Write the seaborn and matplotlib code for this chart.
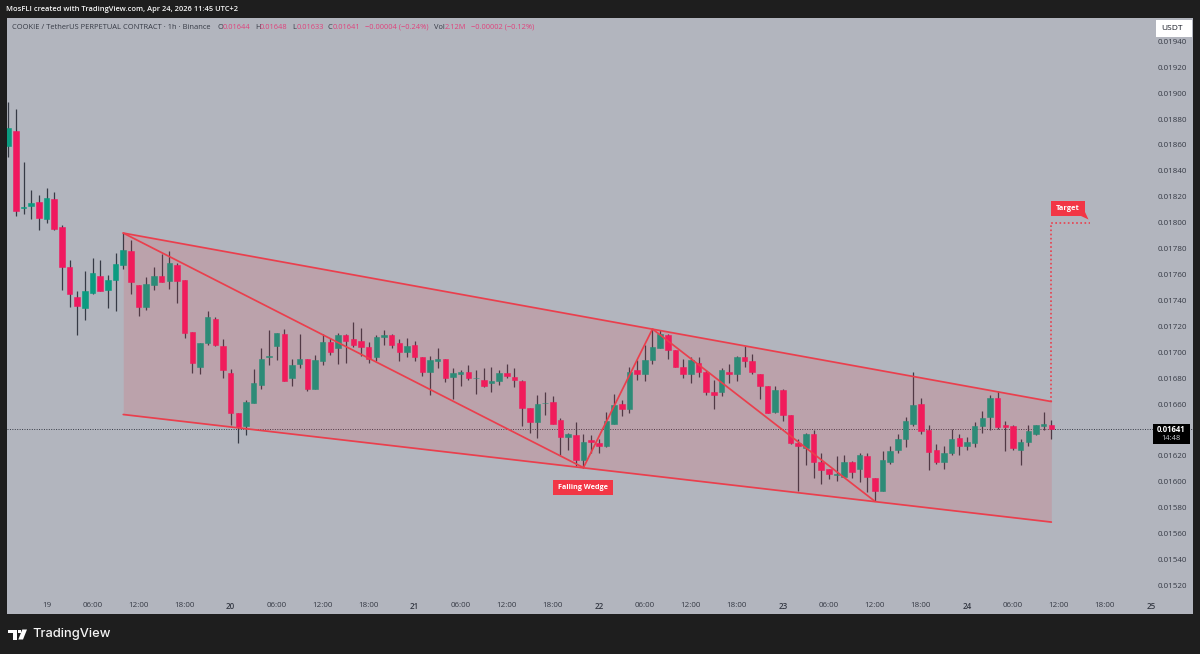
# COOKIE / USDT 1h chart with falling wedge drawing
import matplotlib
matplotlib.use("Agg")
import matplotlib.pyplot as plt
from matplotlib.patches import Rectangle, Polygon
import numpy as np
import pandas as pd
import seaborn as sns

# prices in units of 0.00001
opens = [1859,1871,1811,1813,1816,1803,1818,1797,1766,1743,
         1734,1746,1759,1748,1756,1767,1778,1752,1735,1752,
         1759,1755,1767,1756,1716,1689,1707,1726,1705,1684,
         1653,1643,1661,1675,1696,1705,1714,1680,1691,1695,
         1672,1693,1708,1703,1713,1710,1709,1704,1696,1712,
         1713,1707,1700,1706,1696,1685,1693,1695,1681,1683,
         1685,1680,1679,1676,1678,1684,1681,1678,1657,1646,
         1661,1662,1648,1635,1636,1617,1632,1630,1628,1645,
         1660,1656,1686,1683,1694,1703,1713,1702,1689,1683,
         1692,1685,1669,1669,1685,1683,1696,1693,1683,1674,
         1654,1671,1652,1630,1626,1637,1615,1610,1605,1604,
         1615,1610,1620,1603,1593,1615,1625,1633,1645,1660,
         1640,1625,1615,1622,1634,1628,1630,1643,1650,1665,
         1644,1643,1625,1631,1637,1643,1644]
highs = [1893,1888,1847,1825,1821,1827,1824,1798,1771,1747,
         1763,1773,1771,1760,1777,1792,1787,1752,1758,1766,
         1776,1778,1769,1756,1716,1707,1732,1727,1710,1687,
         1653,1663,1687,1703,1717,1715,1718,1695,1714,1695,
         1698,1714,1711,1715,1714,1723,1719,1708,1713,1717,
         1714,1710,1711,1709,1696,1697,1703,1695,1688,1686,
         1690,1686,1688,1689,1686,1691,1688,1679,1657,1667,
         1669,1666,1649,1638,1646,1637,1636,1633,1654,1668,
         1663,1689,1694,1706,1718,1717,1714,1702,1695,1696,
         1696,1686,1679,1688,1691,1697,1705,1699,1683,1674,
         1674,1672,1652,1633,1638,1640,1622,1610,1620,1621,
         1616,1622,1622,1603,1624,1628,1637,1650,1685,1665,
         1644,1629,1628,1641,1637,1635,1646,1655,1667,1670,
         1647,1644,1633,1644,1644,1654,1648]
lows = [1851,1805,1807,1803,1794,1800,1794,1748,1735,1713,
        1725,1745,1747,1734,1732,1764,1745,1728,1733,1748,
        1754,1749,1738,1711,1684,1683,1706,1705,1680,1644,
        1630,1636,1661,1672,1690,1694,1678,1674,1688,1670,
        1672,1690,1698,1691,1692,1704,1697,1692,1693,1706,
        1703,1693,1696,1693,1682,1667,1688,1677,1664,1674,
        1679,1668,1673,1669,1675,1680,1673,1643,1638,1634,
        1652,1645,1621,1625,1612,1611,1622,1622,1627,1645,
        1651,1653,1679,1678,1691,1703,1695,1689,1680,1676,
        1681,1667,1656,1666,1676,1678,1689,1683,1664,1653,
        1653,1647,1629,1593,1613,1603,1598,1602,1601,1604,
        1603,1600,1592,1585,1593,1614,1622,1627,1643,1637,
        1609,1614,1610,1621,1621,1625,1627,1638,1640,1641,
        1624,1625,1613,1628,1636,1640,1633]
closes = [1873,1809,1812,1815,1804,1819,1795,1766,1745,1736,
          1747,1761,1747,1756,1768,1779,1754,1735,1753,1759,
          1754,1769,1755,1715,1692,1707,1727,1706,1686,1653,
          1642,1662,1676,1695,1697,1715,1678,1690,1695,1672,
          1694,1708,1700,1713,1709,1706,1704,1695,1712,1713,
          1706,1700,1705,1696,1685,1694,1695,1680,1684,1685,
          1680,1680,1674,1678,1684,1682,1679,1657,1646,1660,
          1661,1645,1635,1637,1617,1631,1631,1628,1647,1659,
          1656,1685,1683,1694,1704,1714,1702,1689,1683,1694,
          1685,1669,1667,1686,1683,1696,1693,1685,1674,1653,
          1671,1652,1630,1628,1637,1615,1609,1606,1606,1615,
          1608,1621,1604,1593,1617,1624,1633,1647,1659,1639,
          1623,1615,1622,1633,1628,1631,1643,1649,1665,1642,
          1642,1626,1631,1639,1644,1645,1641]

# hour index of each time label
time_ticks = [5 + 6*i for i in range(25)]
time_labels = ["19","06:00","12:00","18:00","20","06:00","12:00","18:00","21","06:00","12:00","18:00",
               "22","06:00","12:00","18:00","23","06:00","12:00","18:00","24","06:00","12:00","18:00","25"]
# 0.01640 sits under the last price tag, so it is left out
price_ticks = [1520,1540,1560,1580,1600,1620,1660,1680,1700,1720,1740,
               1760,1780,1800,1820,1840,1860,1880,1900,1920,1940]

# drawings (hour, price)
upper_hours, upper_prices = [15, 136], [1792, 1662]
lower_hours, lower_prices = [15, 136], [1652, 1569]
zigzag_hours, zigzag_prices = [15, 75, 84, 113], [1792, 1611, 1718, 1585]
target_hours, target_prices = [136, 136, 141], [1662, 1800, 1800]
last_price = 1641

BG = "#b2b5be"
FRAME = "#1e1e1e"
RED = "#f0185f"
GREEN = "#0b9b80"
LINE = "#ea3f4d"
LABEL_RED = "#f23645"
INK = "#363a45"

W, H = 1200, 654
sns.set_theme(style="white")
plt.rcParams["font.family"] = ["Open Sans", "DejaVu Sans"]

df = pd.DataFrame({"open": opens, "high": highs, "low": lows, "close": closes})
df["hour"] = df.index
up = df["close"] >= df["open"]

fig = plt.figure(figsize=(12, 6.54), dpi=100, facecolor=FRAME)
left, right, top, bottom = 7, 1193, 18, 614
ax = fig.add_axes([left/W, 1-bottom/H, (right-left)/W, (bottom-top)/H], facecolor=BG)
for s in ax.spines.values():
    s.set_visible(False)

# candles
ax.vlines(df["hour"], df["low"], df["high"], color=INK, lw=0.9, zorder=2)
ax.bar(df["hour"], (df["close"]-df["open"]).abs(), bottom=df[["open", "close"]].min(axis=1),
       width=0.72, color=np.where(up, GREEN, RED), edgecolor=np.where(up, GREEN, RED), lw=0.4, zorder=3)

# wedge
ax.fill_between(np.array(upper_hours), lower_prices, upper_prices, color=LABEL_RED, alpha=0.15, lw=0, zorder=4)
for xs, ys in [(upper_hours, upper_prices), (lower_hours, lower_prices), (zigzag_hours, zigzag_prices)]:
    sns.lineplot(x=xs, y=ys, sort=False, estimator=None, color=LINE, lw=1.25, ax=ax, zorder=5)
sns.lineplot(x=target_hours, y=target_prices, sort=False, estimator=None, color=LINE, lw=1.2,
             linestyle=(0, (1, 1.5)), ax=ax, zorder=5)

# last price line
ax.axhline(last_price, color=INK, lw=0.7, linestyle=(0, (1, 1.5)), zorder=1)

# scales
ax.set_xlim((left-8.2)/7.67, (right-8.2)/7.67)
ax.set_ylim(1800-(bottom-222.7)/1.296, 1800+(222.7-top)/1.296)
ax.set_xticks(time_ticks)
ax.set_xticklabels(time_labels)
ax.yaxis.tick_right()
ax.set_yticks(price_ticks)
ax.set_yticklabels([f"{p/1e5:.5f}" for p in price_ticks])
ax.tick_params(axis="x", length=0, pad=-8.8, labelsize=5.8, labelcolor=INK)
ax.tick_params(axis="y", length=0, pad=-25.5, labelsize=5.8, labelcolor=INK)
for lab in ax.get_xticklabels():
    if lab.get_text() in ("20", "21", "22", "23", "24", "25"):
        lab.set_fontweight("semibold")

def fig_xy(x, y):
    return x/W, 1-y/H

def put(x, y, s, color, size=5.45, **kw):
    fx, fy = fig_xy(x, y)
    fig.text(fx, fy, s, color=color, fontsize=size, va="center", zorder=5, **kw)

def box(x0, y0, x1, y1, fc):
    fig.add_artist(Rectangle(fig_xy(x0, y1), (x1-x0)/W, (y1-y0)/H, transform=fig.transFigure,
                             fc=fc, ec="none", zorder=3))

# labels on the drawings
box(552.7, 480, 612.7, 495, LABEL_RED)
put(582.7, 487.5, "Falling Wedge", "white", size=5.2, fontweight="bold", ha="center")
box(1051, 201, 1085, 216, LABEL_RED)
fig.add_artist(Polygon([fig_xy(1081, 216), fig_xy(1085, 216), fig_xy(1085, 212), fig_xy(1088.5, 219.5)],
                       transform=fig.transFigure, fc=LABEL_RED, ec="none", zorder=3))
put(1068, 208.5, "Target", "white", size=5.4, fontweight="bold", ha="center")

# last price tag and currency button
box(1153, 424, 1190, 444, "#000000")
put(1171.5, 429, "0.01641", "white", size=5.6, fontweight="bold", ha="center")
put(1171.5, 439, "14:48", "#c9cbd1", size=5.4, ha="center")
box(1155.5, 20, 1192, 37, "white")
put(1171.5, 29, "USDT", "#131722", size=6, ha="center")

# header lines
put(6.4, 9.5, "MosFLI created with TradingView.com, Apr 24, 2026 11:45 UTC+2", "#f5f5f5", size=5.4, fontweight="semibold")
PINK = "#e0427c"
put(11.8, 27.5, "COOKIE / TetherUS PERPETUAL CONTRACT · 1h · Binance", INK)
for x, s, c in [(218, "O", INK), (223, "0.01644", PINK), (255, "H", INK), (260, "0.01648", PINK),
                (292, "L", INK), (297, "0.01633", PINK), (328, "C", INK), (333, "0.01641", PINK),
                (365, "−0.00004 (−0.24%)", PINK), (434, "Vol", INK), (445, "2.12M", PINK),
                (471, "−0.00002 (−0.12%)", PINK)]:
    put(x, 27.5, s, c)

# TradingView logo
px = lambda pts: [fig_xy(*p) for p in pts]
fig.add_artist(Polygon(px([(8, 629.5), (17, 629.5), (17, 639.5), (12.5, 639.5), (12.5, 633), (8, 633)]),
                       transform=fig.transFigure, fc="white", ec="none", zorder=3))
fig.add_artist(Polygon(px([(22.3, 629.5), (27, 629.5), (23, 639.5), (18.3, 639.5)]),
                       transform=fig.transFigure, fc="white", ec="none", zorder=3))
fig.add_artist(Polygon(px([(18.2, 629.8), (20.8, 629.8), (20.8, 632.8), (18.2, 632.8)]),
                       transform=fig.transFigure, fc="white", ec="none", zorder=3))
put(32, 634, "TradingView", "#f5f5f5", size=9.3, family=["Inter", "DejaVu Sans"], fontweight="medium")

fig.savefig("out.png", dpi=100, facecolor=FRAME)
